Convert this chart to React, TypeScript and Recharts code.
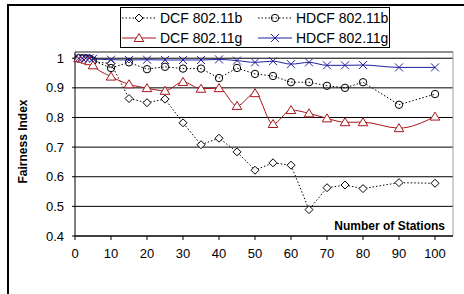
import React from 'react';
import { LineChart, Line, XAxis, YAxis, CartesianGrid, ReferenceLine } from 'recharts';

// stations on the x axis
const stations = [1, 2, 3, 4, 5, 10, 15, 20, 25, 30, 35, 40, 45, 50, 55, 60, 65, 70, 75, 80, 90, 100];

// fairness index per series
const dcfB = [1, 1, 0.999, 0.998, 0.988, 0.982, 0.864, 0.85, 0.862, 0.782, 0.708, 0.73, 0.684, 0.622, 0.647, 0.639, 0.489, 0.563, 0.572, 0.56, 0.58, 0.578];
const hdcfB = [1, 1, 1, 0.999, 0.992, 0.967, 0.986, 0.963, 0.971, 0.965, 0.965, 0.933, 0.967, 0.947, 0.94, 0.919, 0.919, 0.907, 0.9, 0.919, 0.843, 0.879];
const dcfG = [1, 0.998, 0.995, 0.99, 0.976, 0.938, 0.912, 0.899, 0.89, 0.92, 0.897, 0.899, 0.839, 0.882, 0.778, 0.825, 0.814, 0.797, 0.784, 0.784, 0.764, 0.803];
const hdcfG = [1, 1, 1, 1, 0.998, 0.995, 0.994, 0.995, 0.994, 0.994, 0.994, 0.996, 0.992, 0.986, 0.99, 0.98, 0.986, 0.976, 0.976, 0.977, 0.969, 0.969];

const xTicks = [0, 10, 20, 30, 40, 50, 60, 70, 80, 90, 100];
const yTicks = [0.4, 0.5, 0.6, 0.7, 0.8, 0.9, 1];

const data = stations.map((s, i) => ({
    n: s,
    dcfB: dcfB[i],
    hdcfB: hdcfB[i],
    dcfG: dcfG[i],
    hdcfG: hdcfG[i],
}));

const RED = '#a8161c';
const BLUE = '#2222a0';
const FONT = '"Liberation Sans", Arial, sans-serif';

const Diamond = ({ cx, cy, s = 4 }: any) => (
    <path d={`M${cx},${cy - s}L${cx + s},${cy}L${cx},${cy + s}L${cx - s},${cy}Z`} fill="#fff" stroke="#000" strokeWidth={1} />
);
const Circle = ({ cx, cy }: any) => (
    <circle cx={cx} cy={cy} r={3.7} fill="none" stroke="#000" strokeWidth={1} />
);
const Triangle = ({ cx, cy }: any) => (
    <path d={`M${cx},${cy - 4.5}L${cx + 4.8},${cy + 3.5}L${cx - 4.8},${cy + 3.5}Z`} fill="#fff" stroke={RED} strokeWidth={1} />
);
const Cross = ({ cx, cy }: any) => (
    <path d={`M${cx - 4},${cy - 4}L${cx + 4},${cy + 4}M${cx + 4},${cy - 4}L${cx - 4},${cy + 4}`} stroke={BLUE} strokeWidth={1} fill="none" />
);

const dotOf = (Shape: any) => (props: any) => <Shape key={props.index} cx={props.cx} cy={props.cy} />;

function LegendItem({ label, color, dashed, Shape }: any) {
    return (
        <div style={{ display: 'flex', alignItems: 'center', height: 20 }}>
            <svg width={36} height={14} style={{ marginRight: 3 }}>
                <line x1={1} y1={7} x2={35} y2={7} stroke={color} strokeWidth={1} strokeDasharray={dashed ? '1.5 2' : undefined} />
                <Shape cx={18} cy={7} />
            </svg>
            <span>{label}</span>
        </div>
    );
}

export default function App() {
    return (
        <div style={{ position: 'absolute', left: 0, top: 0, width: 464, height: 294, background: '#fff', fontFamily: FONT }}>
            <div style={{ position: 'absolute', left: 7, top: 4, right: 0, bottom: 0, borderTop: '2px solid #000', borderLeft: '2px solid #000' }} />
            <LineChart width={464} height={294} data={data} margin={{ top: 52, right: 11, bottom: 28, left: 0 }} style={{ position: 'absolute', left: 0, top: 0 }}>
                <CartesianGrid horizontal vertical={false} stroke="#000" strokeWidth={1} />
                <ReferenceLine y={1.021} stroke="#a0a0a0" />
                <ReferenceLine x={105} stroke="#a0a0a0" />
                <XAxis
                    dataKey="n"
                    type="number"
                    domain={[0, 105]}
                    ticks={xTicks}
                    height={30}
                    stroke="#000"
                    tickSize={4}
                    tickMargin={9}
                    tick={{ fill: '#000', fontSize: 13, fontFamily: FONT }}
                    label={{
                        content: ({ viewBox }: any) => (
                            <text x={viewBox.x + viewBox.width - 8} y={viewBox.y - 6} textAnchor="end" fontSize={12} fontWeight="bold" fontFamily={FONT} fill="#000">
                                Number of Stations
                            </text>
                        ),
                    }}
                />
                <YAxis
                    type="number"
                    domain={[0.4, 1.021]}
                    ticks={yTicks}
                    width={75}
                    stroke="#000"
                    tickSize={3}
                    tickMargin={8}
                    allowDataOverflow
                    tickFormatter={(v: number) => String(Math.round(v * 10) / 10)}
                    tick={{ fill: '#000', fontSize: 13, fontFamily: FONT }}
                    label={{
                        content: () => (
                            <text x={27} y={141.5} transform="rotate(-90,27,141.5)" textAnchor="middle" fontSize={12} fontWeight="bold" fontFamily={FONT} fill="#000">
                                Fairness Index
                            </text>
                        ),
                    }}
                />
                <Line dataKey="dcfB" type="linear" stroke="#000" strokeWidth={1} strokeDasharray="1.5 2" dot={dotOf(Diamond)} activeDot={false} isAnimationActive={false} />
                <Line dataKey="hdcfB" type="linear" stroke="#000" strokeWidth={1} strokeDasharray="1.5 2" dot={dotOf(Circle)} activeDot={false} isAnimationActive={false} />
                <Line dataKey="dcfG" type="monotone" stroke={RED} strokeWidth={1} dot={dotOf(Triangle)} activeDot={false} isAnimationActive={false} />
                <Line dataKey="hdcfG" type="monotone" stroke={BLUE} strokeWidth={1} dot={dotOf(Cross)} activeDot={false} isAnimationActive={false} />
            </LineChart>
            <div style={{ position: 'absolute', left: 120, top: 7, width: 268, height: 39, border: '1px solid #000', background: '#fff', fontSize: 14, display: 'grid', gridTemplateColumns: '136px 132px', paddingTop: 0, boxSizing: 'content-box' }}>
                <LegendItem label="DCF 802.11b" color="#000" dashed Shape={Diamond} />
                <LegendItem label="HDCF 802.11b" color="#000" dashed Shape={Circle} />
                <LegendItem label="DCF 802.11g" color={RED} Shape={Triangle} />
                <LegendItem label="HDCF 802.11g" color={BLUE} Shape={Cross} />
            </div>
        </div>
    );
}
